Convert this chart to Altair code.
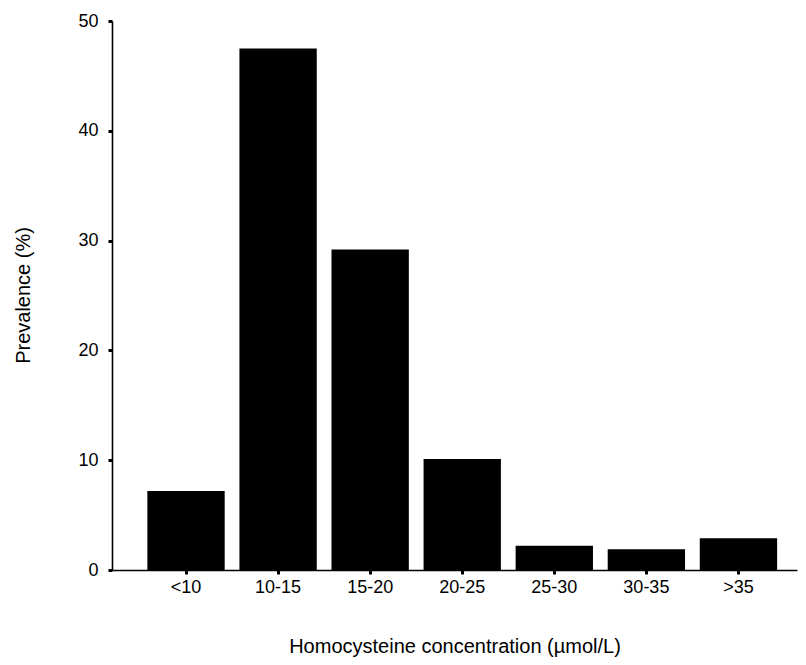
import altair as alt
import pandas as pd

categories = ["<10", "10-15", "15-20", "20-25", "25-30", "30-35", ">35"]
prevalence = [7.2, 47.5, 29.2, 10.1, 2.2, 1.9, 2.9]

df = pd.DataFrame({"cat": categories, "val": prevalence})

FONT = "Liberation Sans"

chart = alt.Chart(df).mark_bar(color="black").encode(
    x=alt.X("cat:N", sort=categories,
            scale=alt.Scale(paddingInner=0.16, paddingOuter=0.30, align=0.64),
            axis=alt.Axis(title="Homocysteine concentration (\u00b5mol/L)",
                          labelAngle=0, labelPadding=4,
                          titleY=82, titleBaseline="alphabetic")),
    y=alt.Y("val:Q", scale=alt.Scale(domain=[0, 50], nice=False),
            axis=alt.Axis(title="Prevalence (%)", values=[0, 10, 20, 30, 40, 50],
                          labelPadding=10, grid=False,
                          titleX=-89, titleY=274, titleBaseline="middle", titleAlign="center")),
).properties(
    width=685, height=549,
    autosize=alt.AutoSizeParams(type="none"),
    padding={"left": 104, "top": 13, "right": 1, "bottom": 87},
).configure(background="white").configure_view(stroke=None).configure_axis(
    labelFontSize=18, labelFont=FONT, labelColor="black",
    titleFontSize=20, titleFont=FONT, titleFontWeight="normal", titleColor="black",
    domainColor="black", domainWidth=1.6, tickColor="black", tickSize=4, tickWidth=3,
    grid=False,
)

chart.save("out.html", embed_options={"renderer": "svg", "actions": False})
